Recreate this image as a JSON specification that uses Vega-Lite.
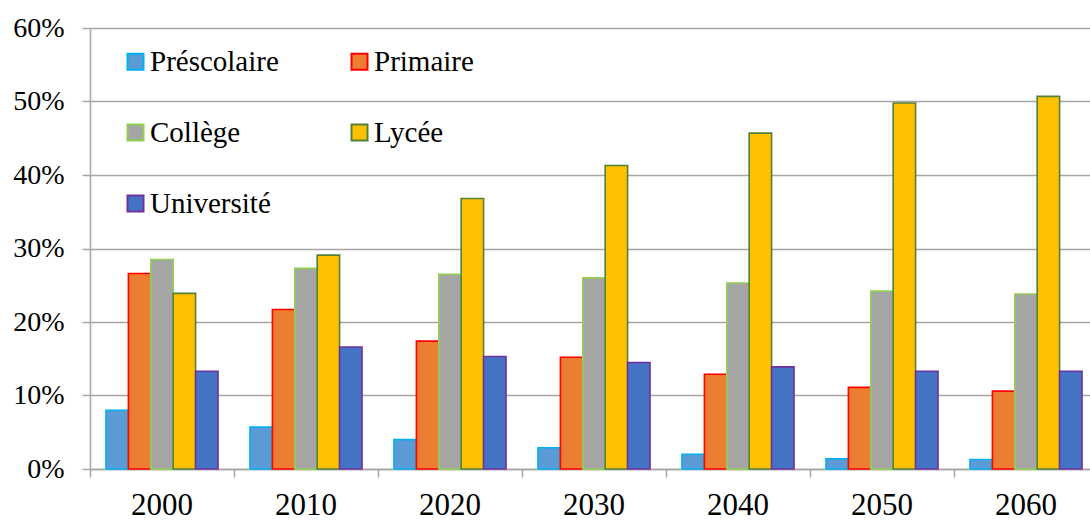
{
  "$schema": "https://vega.github.io/schema/vega-lite/v6.json",
  "width": 1008,
  "height": 441,
  "autosize": "none",
  "padding": {"left": 90, "top": 28, "right": 0, "bottom": 54},
  "background": "white",
  "data": {
    "values": [
      {"year": "2000", "level": "Préscolaire", "value": 0.080},
      {"year": "2000", "level": "Primaire", "value": 0.266},
      {"year": "2000", "level": "Collège", "value": 0.285},
      {"year": "2000", "level": "Lycée", "value": 0.239},
      {"year": "2000", "level": "Université", "value": 0.133},
      {"year": "2010", "level": "Préscolaire", "value": 0.057},
      {"year": "2010", "level": "Primaire", "value": 0.217},
      {"year": "2010", "level": "Collège", "value": 0.273},
      {"year": "2010", "level": "Lycée", "value": 0.291},
      {"year": "2010", "level": "Université", "value": 0.166},
      {"year": "2020", "level": "Préscolaire", "value": 0.040},
      {"year": "2020", "level": "Primaire", "value": 0.174},
      {"year": "2020", "level": "Collège", "value": 0.265},
      {"year": "2020", "level": "Lycée", "value": 0.368},
      {"year": "2020", "level": "Université", "value": 0.153},
      {"year": "2030", "level": "Préscolaire", "value": 0.029},
      {"year": "2030", "level": "Primaire", "value": 0.152},
      {"year": "2030", "level": "Collège", "value": 0.260},
      {"year": "2030", "level": "Lycée", "value": 0.413},
      {"year": "2030", "level": "Université", "value": 0.145},
      {"year": "2040", "level": "Préscolaire", "value": 0.020},
      {"year": "2040", "level": "Primaire", "value": 0.129},
      {"year": "2040", "level": "Collège", "value": 0.253},
      {"year": "2040", "level": "Lycée", "value": 0.457},
      {"year": "2040", "level": "Université", "value": 0.139},
      {"year": "2050", "level": "Préscolaire", "value": 0.014},
      {"year": "2050", "level": "Primaire", "value": 0.111},
      {"year": "2050", "level": "Collège", "value": 0.242},
      {"year": "2050", "level": "Lycée", "value": 0.498},
      {"year": "2050", "level": "Université", "value": 0.133},
      {"year": "2060", "level": "Préscolaire", "value": 0.013},
      {"year": "2060", "level": "Primaire", "value": 0.106},
      {"year": "2060", "level": "Collège", "value": 0.238},
      {"year": "2060", "level": "Lycée", "value": 0.507},
      {"year": "2060", "level": "Université", "value": 0.133}
    ]
  },
  "mark": {"type": "bar", "strokeWidth": 1.6},
  "encoding": {
    "x": {
      "field": "year",
      "type": "nominal",
      "scale": {"paddingInner": 0, "paddingOuter": 0},
      "axis": {
        "title": null,
        "labelAngle": 0,
        "bandPosition": 0,
        "labelFont": "'Liberation Serif', 'Times New Roman', serif",
        "labelFontSize": 31,
        "labelColor": "black",
        "labelPadding": 13,
        "tickSize": 8,
        "tickColor": "#A6A6A6",
        "tickWidth": 1.5,
        "domainColor": "#A6A6A6",
        "domainWidth": 1.5,
        "grid": false
      }
    },
    "xOffset": {
      "field": "level",
      "type": "nominal",
      "scale": {"domain": ["Préscolaire", "Primaire", "Collège", "Lycée", "Université"], "paddingInner": 0, "paddingOuter": 0.714}
    },
    "y": {
      "field": "value",
      "type": "quantitative",
      "scale": {"domain": [0, 0.6], "nice": false},
      "axis": {
        "title": null,
        "format": ".0%",
        "values": [0, 0.1, 0.2, 0.3, 0.4, 0.5, 0.6],
        "labelFont": "'Liberation Serif', 'Times New Roman', serif",
        "labelFontSize": 28,
        "labelColor": "black",
        "labelPadding": 18,
        "tickSize": 8,
        "tickColor": "#A6A6A6",
        "tickWidth": 1.5,
        "domainColor": "#A6A6A6",
        "domainWidth": 1.5,
        "grid": true,
        "gridColor": "#A6A6A6",
        "gridWidth": 1.5
      }
    },
    "fill": {
      "field": "level",
      "type": "nominal",
      "title": null,
      "scale": {
        "domain": ["Préscolaire", "Primaire", "Collège", "Lycée", "Université"],
        "range": ["#5B9BD5", "#ED7D31", "#A5A5A5", "#FFC000", "#4472C4"]
      },
      "legend": {
        "orient": "none",
        "legendX": 31,
        "legendY": 19,
        "columns": 2,
        "direction": "horizontal",
        "padding": 0,
        "columnPadding": 66,
        "rowPadding": 41,
        "symbolType": "square",
        "symbolSize": 256,
        "symbolStrokeWidth": 2,
        "labelFont": "'Liberation Serif', 'Times New Roman', serif",
        "labelFontSize": 29,
        "labelColor": "black",
        "labelOffset": 0,
        "labelLimit": 400
      }
    },
    "stroke": {
      "field": "level",
      "type": "nominal",
      "title": null,
      "scale": {
        "domain": ["Préscolaire", "Primaire", "Collège", "Lycée", "Université"],
        "range": ["#00B0F0", "#FF0000", "#92D050", "#538135", "#7030A0"]
      },
      "legend": {
        "orient": "none",
        "legendX": 31,
        "legendY": 19,
        "columns": 2,
        "direction": "horizontal",
        "padding": 0,
        "columnPadding": 66,
        "rowPadding": 41,
        "symbolType": "square",
        "symbolSize": 256,
        "symbolStrokeWidth": 2,
        "labelFont": "'Liberation Serif', 'Times New Roman', serif",
        "labelFontSize": 29,
        "labelColor": "black",
        "labelOffset": 0,
        "labelLimit": 400
      }
    }
  },
  "config": {
    "font": "'Liberation Serif', 'Times New Roman', serif",
    "view": {"stroke": null}
  }
}
